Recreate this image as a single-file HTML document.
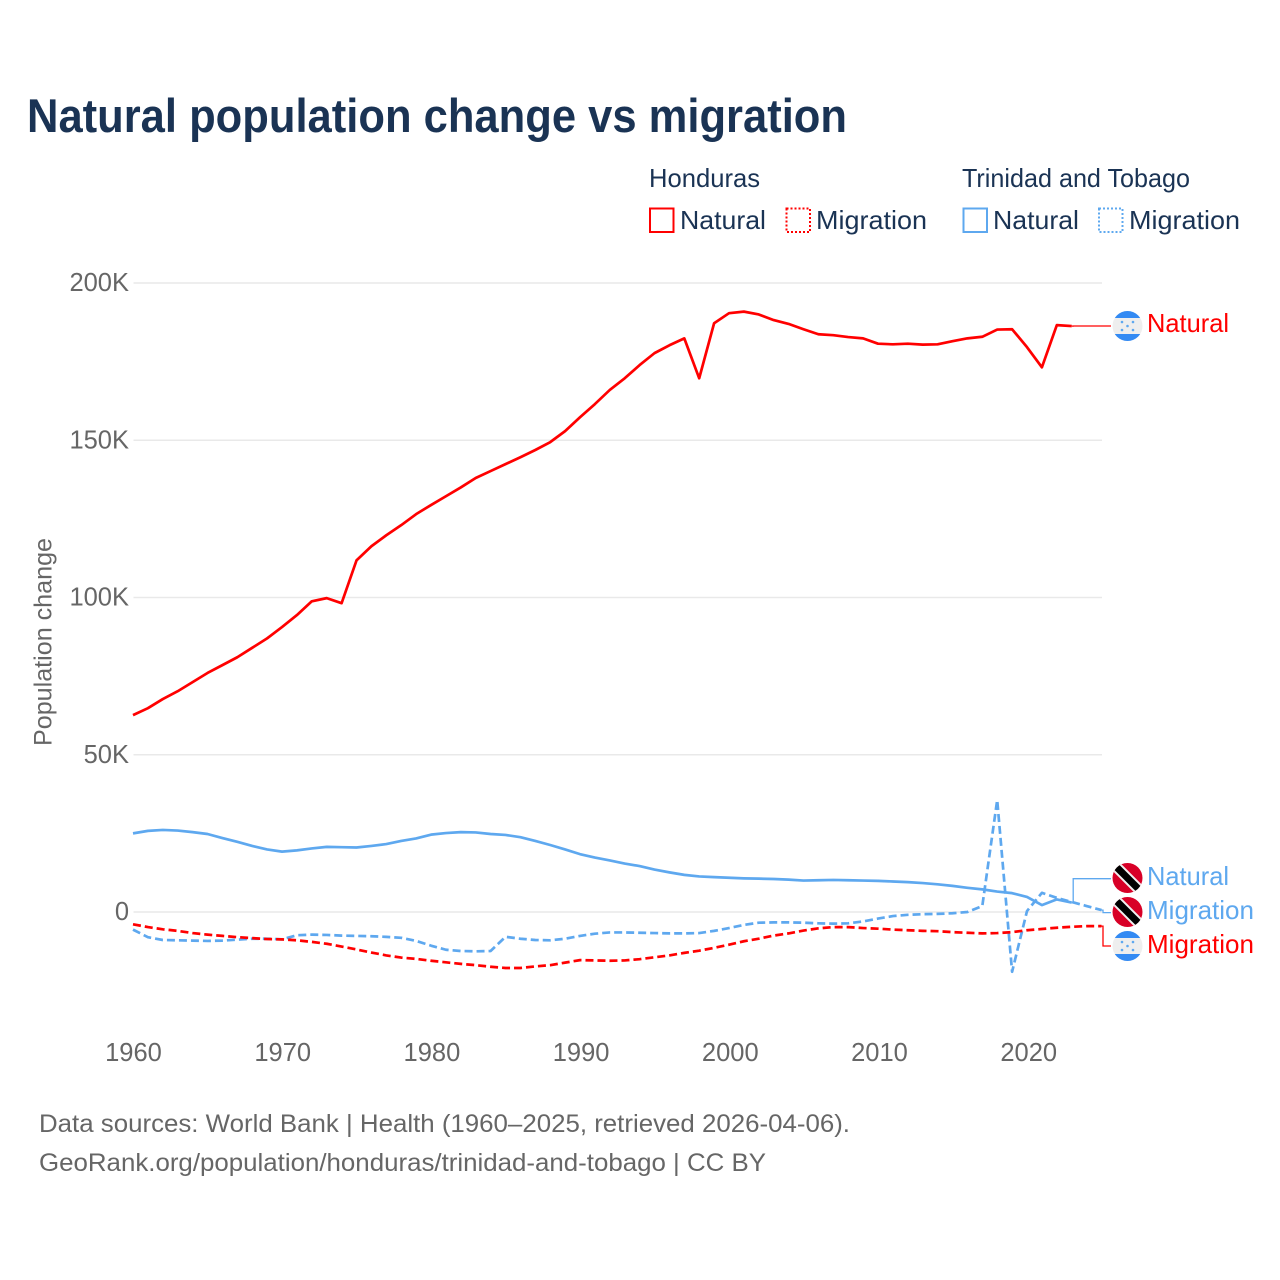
<!DOCTYPE html>
<html lang="en">
<head>
<meta charset="utf-8">
<title>Natural population change vs migration</title>
<style>
html,body{margin:0;padding:0;background:#fff;}
svg{display:block;}
text{font-family:"Liberation Sans",sans-serif;}
</style>
</head>
<body>
<svg id="chart" xmlns="http://www.w3.org/2000/svg" width="1280" height="1280" viewBox="0 0 1280 1280">
  <rect width="1280" height="1280" fill="#fff"/>
  <defs>
    <clipPath id="flag-clip"><circle cx="0" cy="0" r="15"/></clipPath>
    <g id="flag-hn" clip-path="url(#flag-clip)">
      <rect x="-15" y="-15" width="30" height="30" fill="#eeeeee"/>
      <rect x="-15" y="-15" width="30" height="7" fill="#338af3"/>
      <rect x="-15" y="8" width="30" height="7" fill="#338af3"/>
      <circle cx="-5.5" cy="-4" r="1.3" fill="#5ea8ef"/><circle cx="5.5" cy="-4" r="1.3" fill="#5ea8ef"/>
      <circle cx="0" cy="0" r="1.3" fill="#5ea8ef"/>
      <circle cx="-5.5" cy="4" r="1.3" fill="#5ea8ef"/><circle cx="5.5" cy="4" r="1.3" fill="#5ea8ef"/>
    </g>
    <g id="flag-tt" clip-path="url(#flag-clip)">
      <rect x="-15" y="-15" width="30" height="30" fill="#d80027"/>
      <line x1="-15" y1="-15" x2="15" y2="15" stroke="#f0f0f0" stroke-width="11"/>
      <line x1="-15" y1="-15" x2="15" y2="15" stroke="#000" stroke-width="7"/>
    </g>
  </defs>

  <text x="27" y="132" font-size="47" font-weight="700" fill="#1a3354" textLength="820" lengthAdjust="spacingAndGlyphs">Natural population change vs migration</text>

  <g font-size="26" fill="#1a3354">
    <text x="649" y="187" textLength="111" lengthAdjust="spacingAndGlyphs">Honduras</text>
    <text x="962" y="187" textLength="228" lengthAdjust="spacingAndGlyphs">Trinidad and Tobago</text>
    <rect x="650" y="208.5" width="23.5" height="23.5" fill="none" stroke="#ff0000" stroke-width="2"/>
    <text x="680" y="229" textLength="86" lengthAdjust="spacingAndGlyphs">Natural</text>
    <rect x="786.5" y="208.5" width="23.5" height="23.5" fill="none" stroke="#ff0000" stroke-width="2" stroke-dasharray="2 2"/>
    <text x="816" y="229" textLength="111" lengthAdjust="spacingAndGlyphs">Migration</text>
    <rect x="963.5" y="208.5" width="23.5" height="23.5" fill="none" stroke="#5ea8ef" stroke-width="2"/>
    <text x="993" y="229" textLength="86" lengthAdjust="spacingAndGlyphs">Natural</text>
    <rect x="1099" y="208.5" width="23.5" height="23.5" fill="none" stroke="#5ea8ef" stroke-width="2" stroke-dasharray="2 2"/>
    <text x="1129" y="229" textLength="111" lengthAdjust="spacingAndGlyphs">Migration</text>
  </g>

  <text transform="translate(51.5,746) rotate(-90)" font-size="25" fill="#666666" textLength="208" lengthAdjust="spacingAndGlyphs">Population change</text>

  <g id="grid"></g>
  <g id="yticks"></g>
  <g id="xticks"></g>
  <g id="leaders"></g>
  <g id="series"></g>

  <g font-size="26">
    <use href="#flag-hn" x="1127.5" y="326"/>
    <text x="1147" y="332" fill="#ff0000" textLength="82" lengthAdjust="spacingAndGlyphs">Natural</text>
    <use href="#flag-tt" x="1127.5" y="878"/>
    <text x="1147" y="885" fill="#5ea8ef" textLength="82" lengthAdjust="spacingAndGlyphs">Natural</text>
    <use href="#flag-tt" x="1127.5" y="912"/>
    <text x="1147" y="919" fill="#5ea8ef" textLength="107" lengthAdjust="spacingAndGlyphs">Migration</text>
    <use href="#flag-hn" x="1127.5" y="946"/>
    <text x="1147" y="953" fill="#ff0000" textLength="107" lengthAdjust="spacingAndGlyphs">Migration</text>
  </g>

  <g font-size="25" fill="#666666">
    <text x="39" y="1132" textLength="811" lengthAdjust="spacingAndGlyphs">Data sources: World Bank | Health (1960–2025, retrieved 2026-04-06).</text>
    <text x="39" y="1171" textLength="727" lengthAdjust="spacingAndGlyphs">GeoRank.org/population/honduras/trinidad-and-tobago | CC BY</text>
  </g>
</svg>
<script>
var startYear = 1960;
var xTickYears = [1960, 1970, 1980, 1990, 2000, 2010, 2020];
var yTickValues = [0, 50, 100, 150, 200];
var yTickLabels = ["0", "50K", "100K", "150K", "200K"];

// Values in thousands of people, one per year from 1960
var hondurasNatural = [62.6,64.8,67.7,70.2,73.1,76.0,78.5,81.0,84.0,87.0,90.6,94.4,98.8,99.8,98.2,111.8,116.3,119.8,123.0,126.5,129.4,132.2,135.0,138.0,140.2,142.4,144.6,146.9,149.4,152.9,157.3,161.5,166.0,169.7,173.9,177.7,180.2,182.4,169.7,187.2,190.4,190.9,190.0,188.2,187.0,185.3,183.7,183.4,182.8,182.4,180.7,180.5,180.7,180.4,180.5,181.5,182.4,182.9,185.2,185.3,179.6,173.2,186.6,186.3];
var hondurasMigration = [-3.9,-4.8,-5.5,-6.0,-6.7,-7.2,-7.6,-8.0,-8.3,-8.6,-8.7,-9.0,-9.5,-10.1,-11.0,-11.9,-12.9,-13.8,-14.5,-14.9,-15.5,-16.0,-16.5,-16.9,-17.4,-17.8,-17.8,-17.3,-16.9,-16.1,-15.3,-15.4,-15.5,-15.4,-15.0,-14.4,-13.8,-13.0,-12.3,-11.4,-10.4,-9.3,-8.5,-7.5,-6.8,-5.9,-5.2,-4.8,-4.8,-5.1,-5.3,-5.6,-5.8,-6.0,-6.1,-6.4,-6.6,-6.8,-6.7,-6.4,-5.8,-5.4,-5.0,-4.7,-4.5,-4.5];
var trinidadNatural = [25.0,25.8,26.1,25.9,25.4,24.8,23.5,22.3,21.0,19.9,19.2,19.6,20.2,20.7,20.6,20.5,21.0,21.6,22.6,23.4,24.6,25.1,25.4,25.3,24.8,24.5,23.8,22.6,21.3,19.9,18.4,17.3,16.4,15.4,14.6,13.5,12.6,11.8,11.3,11.1,10.9,10.7,10.6,10.5,10.3,10.0,10.1,10.2,10.1,10.0,9.9,9.7,9.5,9.2,8.8,8.3,7.7,7.2,6.5,6.0,4.8,2.2,4.0,3.0];
var trinidadMigration = [-5.6,-8.0,-8.9,-9.0,-9.1,-9.2,-9.1,-8.8,-8.5,-8.5,-8.7,-7.4,-7.2,-7.3,-7.5,-7.6,-7.7,-7.9,-8.2,-9.2,-10.7,-12.0,-12.4,-12.5,-12.4,-7.9,-8.5,-8.9,-9.0,-8.5,-7.6,-6.9,-6.5,-6.5,-6.6,-6.7,-6.8,-6.8,-6.7,-6.0,-5.1,-4.1,-3.4,-3.3,-3.3,-3.4,-3.6,-3.7,-3.6,-3.0,-2.1,-1.3,-0.9,-0.7,-0.6,-0.4,0.0,1.9,35.6,-19.0,0.3,6.1,4.5,3.2,1.9,0.6];

var RED = "#ff0000";
var BLUE = "#5ea8ef";
var GRID_LEFT = 133.5;
var GRID_RIGHT = 1102;
var NS = "http://www.w3.org/2000/svg";

function xScale(year) { return 133 + (year - 1960) * 14.9; }
function xLabelPos(year) { return 133.5 + (year - 1960) * 14.92; }
function yScale(value) { return 912 - value * 3.145; }

function make(tag, parent) {
  var el = document.createElementNS(NS, tag);
  parent.appendChild(el);
  return el;
}

var grid = document.getElementById("grid");
var yticks = document.getElementById("yticks");
var xticks = document.getElementById("xticks");
var seriesGroup = document.getElementById("series");
var leaders = document.getElementById("leaders");

yTickValues.forEach(function (v, i) {
  var line = make("line", grid);
  
  
  line.setAttribute("x1", GRID_LEFT);
  line.setAttribute("x2", GRID_RIGHT);
  line.setAttribute("y1", yScale(v));
  line.setAttribute("y2", yScale(v));
  line.setAttribute("stroke", "#e9e9e9");
  line.setAttribute("stroke-width", "1.5");

  var label = make("text", yticks);
  
  
  label.setAttribute("x", 129);
  label.setAttribute("y", yScale(v) + 8);
  label.setAttribute("text-anchor", "end");
  label.setAttribute("font-size", "25.5");
  label.setAttribute("fill", "#666666");
  label.textContent = yTickLabels[i];
});

xTickYears.forEach(function (year) {
  var label = make("text", xticks);
  
  
  label.setAttribute("x", xLabelPos(year));
  label.setAttribute("y", 1061);
  label.setAttribute("text-anchor", "middle");
  label.setAttribute("font-size", "25.5");
  label.setAttribute("fill", "#666666");
  label.textContent = String(year);
});

function pathFrom(values) {
  return values.map(function (v, i) {
    return (i ? "L" : "M") + xScale(startYear + i).toFixed(2) + " " + yScale(v).toFixed(2);
  }).join(" ");
}

function drawSeries(values, color, dashed, name) {
  var p = make("path", seriesGroup);
  
  
  p.setAttribute("d", pathFrom(values));
  p.setAttribute("fill", "none");
  p.setAttribute("stroke", color);
  p.setAttribute("stroke-width", "2.7");
  p.setAttribute("stroke-linejoin", "round");
  if (dashed) p.setAttribute("stroke-dasharray", "8 4");
}

drawSeries(trinidadNatural, BLUE, false, "line-trinidad-natural");
drawSeries(trinidadMigration, BLUE, true, "line-trinidad-migration");
drawSeries(hondurasMigration, RED, true, "line-honduras-migration");
drawSeries(hondurasNatural, RED, false, "line-honduras-natural");

function endPoint(values) {
  var i = values.length - 1;
  return { x: xScale(startYear + i), y: yScale(values[i]) };
}

function drawLeader(values, color, labelY, name) {
  var e = endPoint(values);
  var midX = e.x + 1.5;
  var p = make("path", leaders);
  
  
  p.setAttribute("d", "M" + e.x.toFixed(2) + " " + e.y.toFixed(2) + " L" + midX.toFixed(2) + " " + e.y.toFixed(2) + " L" + midX.toFixed(2) + " " + labelY + " L1111 " + labelY);
  p.setAttribute("fill", "none");
  p.setAttribute("stroke", color);
  p.setAttribute("stroke-width", "1.3");
}

drawLeader(hondurasNatural, RED, 326, "leader-honduras-natural");
drawLeader(trinidadNatural, BLUE, 878.7, "leader-trinidad-natural");
drawLeader(trinidadMigration, BLUE, 912.6, "leader-trinidad-migration");
drawLeader(hondurasMigration, RED, 946, "leader-honduras-migration");
</script>
</body>
</html>
